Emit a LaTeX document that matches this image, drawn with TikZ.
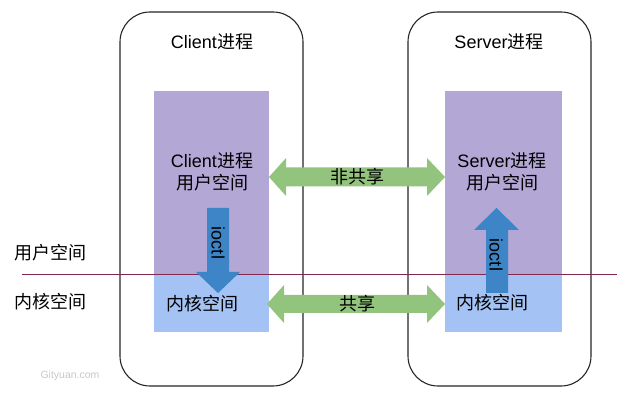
\documentclass[tikz,border=0pt]{standalone}
\usepackage{fontspec}
\setmainfont{Liberation Sans}
\newfontfamily\cjk{Noto Sans CJK SC}
\begin{document}
\begin{tikzpicture}[x=1pt,y=-1pt,
  proc/.style={draw=black!85, line width=1.1pt, rounded corners=30pt, fill=white},
  userbox/.style={fill=userpurple, draw=none},
  kernbox/.style={fill=kernblue, draw=none},
  greenarr/.style={fill=arrgreen, draw=none},
  bluearr/.style={fill=arrblue, draw=none},
  lbl/.style={font=\fontsize{18}{21.5}\selectfont, inner sep=0pt, align=center},
  vlbl/.style={font=\fontsize{18}{20}\selectfont, inner sep=0pt, rotate=-90}
]
\definecolor{userpurple}{RGB}{179,167,214}
\definecolor{kernblue}{RGB}{164,194,244}
\definecolor{arrgreen}{RGB}{147,196,125}
\definecolor{arrblue}{RGB}{61,133,198}
\definecolor{sepline}{RGB}{128,40,80}
\useasboundingbox (0,0) rectangle (643,403);

% process boxes
\draw[proc] (120,12) rectangle (303,386);
\draw[proc] (408,12) rectangle (591,386);

% user / kernel areas
\fill[userbox] (154,91) rectangle (269,274);
\fill[kernbox] (154,274) rectangle (269,332);
\fill[userbox] (445,91) rectangle (562,274);
\fill[kernbox] (445,274) rectangle (562,332);

% separator
\coordinate (sepL) at (22,274);
\coordinate (sepR) at (617,274);
\draw[sepline, line width=0.8pt] (sepL) -- (sepR);

% green double arrows
\fill[greenarr] (269,177) -- (286,158) -- (286,167.5) -- (427,167.5) -- (427,158) -- (445,177)
  -- (427,196) -- (427,186.5) -- (286,186.5) -- (286,196) -- cycle;
\fill[greenarr] (267,304) -- (284,285) -- (284,295) -- (427,295) -- (427,285) -- (445,304)
  -- (427,323) -- (427,313) -- (284,313) -- (284,323) -- cycle;

% blue ioctl arrows
\fill[bluearr] (207,208) -- (229,208) -- (229,272) -- (240,272) -- (218,293) -- (196,272) -- (207,272) -- cycle;
\fill[bluearr] (486,293) -- (508,293) -- (508,230) -- (519,230) -- (496.5,208) -- (474,230) -- (486,230) -- cycle;

% texts
\node[lbl] (ctitle) at (212,42) {Client{\cjk 进程}};
\node[lbl] (stitle) at (499,42) {Server{\cjk 进程}};
\node[lbl] (cuser) at (212,172) {Client{\cjk 进程}\\[1pt]{\cjk 用户空间}};
\node[lbl] (suser) at (502,172) {Server{\cjk 进程}\\[1pt]{\cjk 用户空间}};
\node[lbl] (ckern) at (202,304) {\cjk 内核空间};
\node[lbl] (skern) at (492,303) {\cjk 内核空间};
\node[lbl] (nonshare) at (357,177) {\cjk 非共享};
\node[lbl] (share) at (357,304) {\cjk 共享};
\node[lbl] (luser) at (51,253) {\cjk 用户空间};
\node[lbl] (lkern) at (51,302) {\cjk 内核空间};
\node[vlbl] (cioctl) at (218,243) {ioctl};
\node[vlbl] (sioctl) at (496,255) {ioctl};
\node[font=\fontsize{10.5}{12}\selectfont, text=black!22, inner sep=0pt] (wm) at (70,376) {Gityuan.com};
\end{tikzpicture}
\end{document}
